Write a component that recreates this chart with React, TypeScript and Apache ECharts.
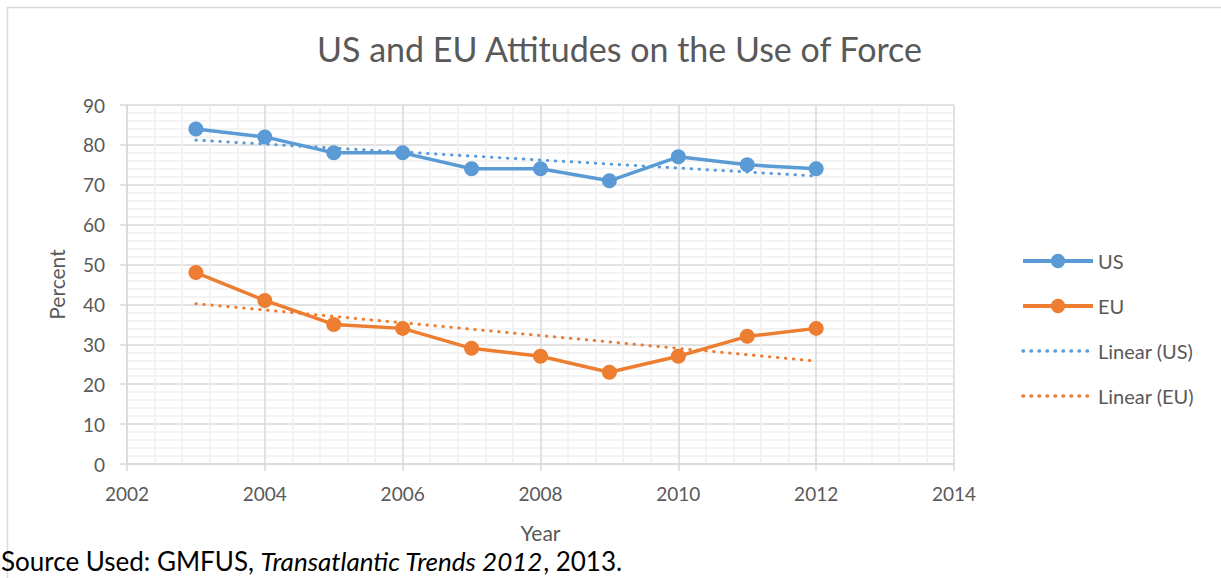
import React, { useEffect, useRef } from "react";
import * as echarts from "echarts";

const years = [2003, 2004, 2005, 2006, 2007, 2008, 2009, 2010, 2011, 2012];
const usValues = [84, 82, 78, 78, 74, 74, 71, 77, 75, 74];
const euValues = [48, 41, 35, 34, 29, 27, 23, 27, 32, 34];
const trendYears = [2003, 2012];
const usTrend = [81.2, 72.2];
const euTrend = [40.2, 25.8];

const titleText = "US and EU Attitudes on the Use of Force";
const FONT = "Lato, 'Open Sans', sans-serif";
const GREY = "#595959";

export default function App() {
  const ref = useRef<HTMLDivElement>(null);
  useEffect(() => {
    document.body.style.margin = "0";
    const chart = echarts.init(ref.current!, null, { renderer: "svg" });
    const pairs = (xs: number[], ys: number[]) => xs.map((x, i) => [x, ys[i]]);
    chart.setOption({
      animation: false,
      backgroundColor: "#ffffff",
      textStyle: { fontFamily: FONT },
      title: {
        text: titleText,
        left: 317,
        top: 31,
        padding: 0,
        textStyle: { fontFamily: FONT, fontSize: 34, fontWeight: "normal", color: GREY },
      },
      grid: { left: 127, right: 267, top: 105, bottom: 114, containLabel: false },
      legend: {
        orient: "vertical",
        left: 1021,
        top: 251,
        padding: 0,
        itemWidth: 70,
        itemHeight: 18,
        itemGap: 25,
        textStyle: { fontFamily: FONT, fontSize: 20, color: GREY },
        data: [
          { name: "US", lineStyle: { width: 4 } },
          { name: "EU", lineStyle: { width: 4 } },
          { name: "Linear (US)", itemStyle: { opacity: 0 }, lineStyle: { width: 3.5 } },
          { name: "Linear (EU)", itemStyle: { opacity: 0 }, lineStyle: { width: 3.5 } },
        ],
      },
      xAxis: {
        type: "value",
        min: 2002,
        max: 2014,
        interval: 2,
        name: "Year",
        nameLocation: "middle",
        nameGap: 58,
        nameTextStyle: { fontFamily: FONT, fontSize: 21, color: GREY },
        axisLine: { show: true, onZero: false, lineStyle: { color: "#d9d9d9", width: 1.5 } },
        axisTick: { show: true, length: 7, lineStyle: { color: "#d9d9d9", width: 1.5 } },
        axisLabel: {
          margin: 20,
          fontSize: 19,
          color: GREY,
          fontFamily: FONT,
          formatter: (v: number) => String(v),
        },
        splitLine: { show: true, lineStyle: { color: "#d9d9d9", width: 1.5 } },
        minorTick: { show: false, splitNumber: 5 },
        minorSplitLine: { show: true, lineStyle: { color: "#efefef", width: 1.5 } },
      },
      yAxis: {
        type: "value",
        min: 0,
        max: 90,
        interval: 10,
        name: "Percent",
        nameLocation: "middle",
        nameGap: 60,
        nameTextStyle: { fontFamily: FONT, fontSize: 21, color: GREY },
        axisLine: { show: true, lineStyle: { color: "#d9d9d9", width: 1.5 } },
        axisTick: { show: true, length: 7, lineStyle: { color: "#d9d9d9", width: 1.5 } },
        axisLabel: { margin: 22, fontSize: 19, color: GREY, fontFamily: FONT },
        splitLine: { show: true, lineStyle: { color: "#d9d9d9", width: 1.5 } },
        minorTick: { show: false, splitNumber: 5 },
        minorSplitLine: { show: true, lineStyle: { color: "#efefef", width: 1.5 } },
      },
      series: [
        {
          name: "US",
          type: "line",
          data: pairs(years, usValues),
          color: "#5B9BD5",
          symbol: "circle",
          symbolSize: 15,
          lineStyle: { width: 3.5 },
          z: 3,
        },
        {
          name: "EU",
          type: "line",
          data: pairs(years, euValues),
          color: "#ED7D31",
          symbol: "circle",
          symbolSize: 15,
          lineStyle: { width: 3.5 },
          z: 3,
        },
        {
          name: "Linear (US)",
          type: "line",
          data: pairs(trendYears, usTrend),
          color: "#5B9BD5",
          symbol: "none",
          lineStyle: { width: 3, type: [0.5, 7.5], cap: "round" },
          z: 2,
        },
        {
          name: "Linear (EU)",
          type: "line",
          data: pairs(trendYears, euTrend),
          color: "#ED7D31",
          symbol: "none",
          lineStyle: { width: 3, type: [0.5, 7.5], cap: "round" },
          z: 2,
        },
      ],
      graphic: [
        {
          type: "rect",
          shape: { x: 7.5, y: 7.5, width: 1400, height: 800 },
          style: { fill: "none", stroke: "#d9d9d9", lineWidth: 1.5 },
          silent: true,
        },
        {
          type: "text",
          left: 1,
          top: 548,
          style: {
            text: "Source Used: GMFUS, {i|Transatlantic Trends 2012}, 2013.",
            fontFamily: FONT,
            fontSize: 26,
            fill: "#000000",
            rich: { i: { fontStyle: "italic", fontFamily: FONT, fontSize: 26, fill: "#000000" } },
          },
        },
      ],
    });
    return () => chart.dispose();
  }, []);
  return (
    <div
      ref={ref}
      style={{ position: "absolute", left: 0, top: 0, width: 1221, height: 578 }}
    />
  );
}
